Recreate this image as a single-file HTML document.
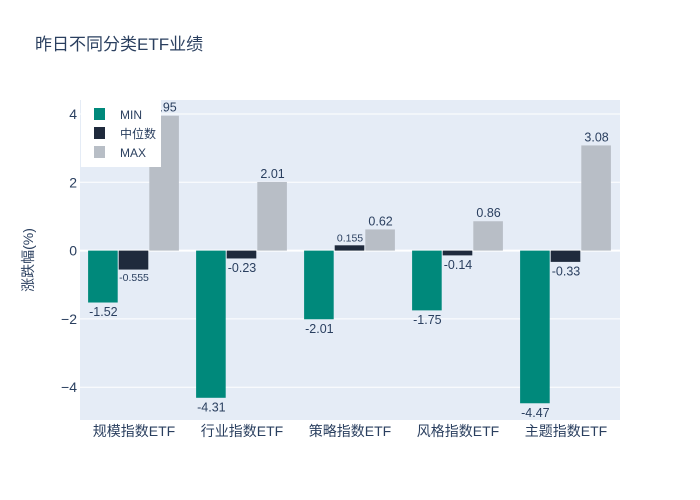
<!DOCTYPE html>
<html><head><meta charset="utf-8"><style>
body{margin:0;background:#fff}
svg{display:block;font-family:"Liberation Sans","Noto Sans CJK SC",sans-serif}
</style></head><body>
<svg id="chart" width="700" height="500">
<rect width="700" height="500" fill="#fff"/>
<text x="35" y="50" font-size="17" fill="#2a3f5f">昨日不同分类ETF业绩</text>
<rect x="80" y="100" width="540" height="320" fill="#e5ecf6"/>
<g id="grid"></g><g id="bars"></g><g id="labels"></g>
<text transform="translate(33,260) rotate(-90)" text-anchor="middle" font-size="14" fill="#2a3f5f">涨跌幅(%)</text>
<g id="legend"></g>
</svg>
<script>
const categories=["规模指数ETF","行业指数ETF","策略指数ETF","风格指数ETF","主题指数ETF"];
const seriesNames=["MIN","中位数","MAX"];
const minVals=[-1.52,-4.31,-2.01,-1.75,-4.47];
const medVals=[-0.555,-0.23,0.155,-0.14,-0.33];
const maxVals=[3.95,2.01,0.62,0.86,3.08];
const yTicks=[-4,-2,0,2,4];
const colors=["#00897b","#1f2a3c","#b8bec6"];
const NS="http://www.w3.org/2000/svg";
const X0=80,W=540,Y0=100,H=320,ymin=-4.96,ymax=4.41;
const y=v=>Y0+(ymax-v)/(ymax-ymin)*H;
const band=W/categories.length;
function mk(t,a,p){const e=document.createElementNS(NS,t);for(const k in a)e.setAttribute(k,a[k]);p.appendChild(e);return e;}
const grid=document.getElementById('grid'),bars=document.getElementById('bars'),labels=document.getElementById('labels'),svg=document.getElementById('chart');
yTicks.forEach(t=>{
 const l=mk('line',{x1:X0,x2:X0+W,y1:y(t),y2:y(t),stroke:'#fff','stroke-width':t===0?2:1},grid);
 
 
 const tx=mk('text',{x:X0-3,y:y(t)+5,'text-anchor':'end','font-size':14,fill:'#2a3f5f'},svg);
 tx.textContent=t<0?'−'+Math.abs(t):String(t);
 
 
});
const series=[minVals,medVals,maxVals];
const bw=(band*0.85)/3;
categories.forEach((c,i)=>{
 const gx=X0+i*band+band*0.075;
 series.forEach((s,j)=>{
  const v=s[i],x=gx+j*bw,top=Math.min(y(v),y(0)),h=Math.abs(y(v)-y(0));
  const r=mk('rect',{x:x,y:top,width:bw-1,height:h,fill:colors[j]},bars);
  
  
  const dec=(String(v).split('.')[1]||'').length;
  const small=dec>=3;
  const fs=small?10.5:12.5;
  const ty=v>=0?y(v)-4:y(v)+fs+1;
  const tx=mk('text',{x:x+bw/2,y:ty,'text-anchor':'middle','font-size':fs,fill:'#2a3f5f'},labels);
  tx.textContent=String(v);
  
  
 });
 const cl=mk('text',{x:X0+i*band+band/2,y:436,'text-anchor':'middle','font-size':14,fill:'#2a3f5f'},svg);
 cl.textContent=c;
 
 
});
const lg=document.getElementById('legend');
mk('rect',{x:81,y:100,width:80,height:67,fill:'#fff'},lg);
seriesNames.forEach((n,j)=>{
 const yy=114+j*19;
 const r=mk('rect',{x:94,y:yy-6,width:11,height:12,fill:colors[j]},lg);
 
 
 const t=mk('text',{x:120,y:yy+5,'font-size':12,fill:'#2a3f5f'},lg);
 t.textContent=n;
 
 
});
</script>
</body></html>
